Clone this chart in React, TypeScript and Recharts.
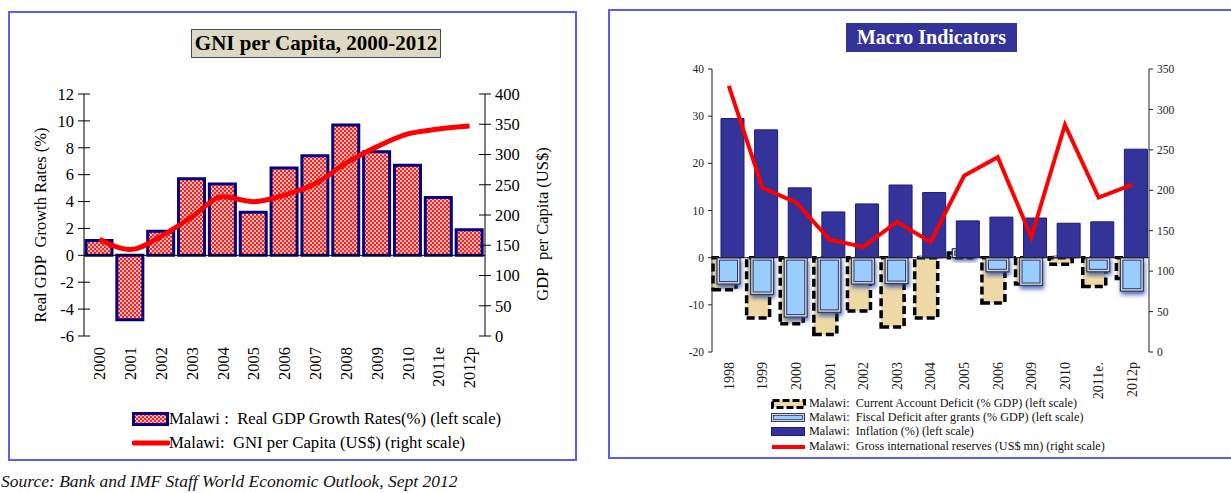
import React from 'react';
import { ComposedChart, Bar, Line, XAxis, YAxis, ReferenceLine } from 'recharts';

const SERIF = '"Liberation Serif", "Times New Roman", serif';

// ---------- Left chart data: GNI per Capita, 2000-2012 ----------
const gniYears = ['2000', '2001', '2002', '2003', '2004', '2005', '2006', '2007', '2008', '2009', '2010', '2011e', '2012p'];
const gdpGrowth = [1.1, -4.8, 1.8, 5.7, 5.3, 3.2, 6.5, 7.4, 9.7, 7.7, 6.7, 4.3, 1.9];
const gniPerCapita = [160, 143, 165, 197, 230, 222, 233, 252, 286, 313, 334, 342, 347];
const gdpTicks = [-6, -4, -2, 0, 2, 4, 6, 8, 10, 12];
const gniTicks = [0, 50, 100, 150, 200, 250, 300, 350, 400];

// ---------- Right chart data: Macro Indicators ----------
const macroYears = ['1998', '1999', '2000', '2001', '2002', '2003', '2004', '2005', '2006', '2009', '2010', '2011e.', '2012p'];
const currentAccount = [-6.8, -12.8, -14.0, -16.3, -11.3, -14.7, -12.8, 1.0, -9.6, -5.6, -1.4, -6.1, -4.4];
const fiscalDeficit = [-5.6, -7.8, -12.6, -11.6, -5.6, -5.5, 0.3, 1.9, -3.0, -5.9, 0.3, -3.0, -7.1];
const inflation = [29.5, 27.1, 14.8, 9.7, 11.4, 15.4, 13.8, 7.8, 8.6, 8.4, 7.3, 7.6, 23.0];
const reserves = [329, 203, 185, 139, 130, 161, 136, 218, 241, 142, 281, 191, 207];
const macroLeftTicks = [-20, -10, 0, 10, 20, 30, 40];
const macroRightTicks = [0, 50, 100, 150, 200, 250, 300, 350];

const gniData = gniYears.map((year, i) => ({ year, gdp: gdpGrowth[i], gni: gniPerCapita[i] }));
const macroData = macroYears.map((year, i) => ({
  year,
  ca: currentAccount[i],
  fiscal: fiscalDeficit[i],
  inflation: inflation[i],
  reserves: reserves[i],
}));

// ---------- ticks ----------
const CrossTickLeft = (props: any) => {
  const { x, y, payload } = props;
  const ax = x + 10;
  return (
    <g>
      <line x1={ax} x2={ax + 6} y1={y} y2={y} stroke="#000" strokeWidth={1} />
      <text x={x} y={y} dy="0.35em" textAnchor="end" fontFamily={SERIF} fontSize={16.5} fill="#000">
        {payload.value}
      </text>
    </g>
  );
};

const CrossTickRight = (props: any) => {
  const { x, y, payload } = props;
  const ax = x - 10;
  return (
    <g>
      <line x1={ax - 6} x2={ax} y1={y} y2={y} stroke="#000" strokeWidth={1} />
      <text x={x} y={y} dy="0.35em" textAnchor="start" fontFamily={SERIF} fontSize={16.5} fill="#000">
        {payload.value}
      </text>
    </g>
  );
};

const makeRotTick = (fontSize: number, color: string) => (props: any) => {
  const { x, y, payload } = props;
  return (
    <text
      x={x}
      y={y}
      transform={`rotate(-90 ${x} ${y})`}
      dy="0.35em"
      textAnchor="end"
      fontFamily={SERIF}
      fontSize={fontSize}
      fill={color}
    >
      {payload.value}
    </text>
  );
};
const RotTickLeft = makeRotTick(16.5, '#000');
const RotTickRight = makeRotTick(14, '#222');

const FiscalShape = (props: any) => {
  const { x, y, width, height } = props;
  if (width == null || height == null || !isFinite(height)) return null;
  const top = Math.min(y, y + height);
  const h = Math.abs(height);
  return (
    <g filter="url(#fiscalShadow)">
      <rect x={x} y={top} width={width} height={h} fill="#c9d6e6" stroke="#3a3a55" strokeWidth={1.2} />
      {h > 5 ? (
        <rect x={x + 2.5} y={top + 2.5} width={width - 5} height={h - 5} fill="#99CCFF" stroke="#3a3a55" strokeWidth={1} />
      ) : (
        <rect x={x + 1} y={top} width={width - 2} height={h} fill="#99CCFF" />
      )}
    </g>
  );
};

const latticeDefs = (id: string) => (
  <pattern id={id} width="4" height="4" patternUnits="userSpaceOnUse">
    <rect x="0" y="0" width="4" height="4" fill="#ff1f1f" />
    <circle cx="1" cy="1" r="0.95" fill="#ffffff" />
    <circle cx="3" cy="3" r="0.95" fill="#ffffff" />
  </pattern>
);

export default function App() {
  return (
    <div style={{ position: 'absolute', left: 0, top: 0, width: 1231, height: 493, overflow: 'hidden', background: '#fff', fontFamily: SERIF }}>
      {/* Left panel border */}
      <div style={{ position: 'absolute', left: 8, top: 11, width: 565, height: 446, border: '2px solid #5b5bf5' }} />
      {/* Right panel border */}
      <div style={{ position: 'absolute', left: 608, top: 9, width: 640, height: 446, border: '2px solid #5b5bf5' }} />

      {/* Left chart */}
      <div style={{ position: 'absolute', left: 0, top: 0 }}>
        <ComposedChart
          width={580}
          height={470}
          data={gniData}
          margin={{ top: 94, right: 35, bottom: 74, left: 24 }}
        >
          <defs>{latticeDefs('gdpLattice')}</defs>
          <XAxis
            dataKey="year"
            axisLine={false}
            tickLine={false}
            tickSize={6}
            tickMargin={5}
            height={60}
            interval={0}
            tick={RotTickLeft}
          />
          <YAxis
            yAxisId="left"
            domain={[-6, 12]}
            ticks={gdpTicks}
            interval={0}
            width={60}
            tickSize={6}
            tickMargin={4}
            axisLine={{ stroke: '#000', strokeWidth: 1 }}
            tickLine={{ stroke: '#000' }}
            tick={CrossTickLeft}
          />
          <YAxis
            yAxisId="right"
            orientation="right"
            domain={[0, 400]}
            ticks={gniTicks}
            interval={0}
            width={60}
            tickSize={6}
            tickMargin={4}
            axisLine={{ stroke: '#000', strokeWidth: 1 }}
            tickLine={{ stroke: '#000' }}
            tick={CrossTickRight}
          />
          <ReferenceLine yAxisId="left" y={0} stroke="#000" strokeWidth={1} />
          <Bar
            yAxisId="left"
            dataKey="gdp"
            barSize={26}
            fill="url(#gdpLattice)"
            stroke="#000080"
            strokeWidth={3}
            isAnimationActive={false}
          />
          <Line
            yAxisId="right"
            dataKey="gni"
            type="monotone"
            stroke="#ff0000"
            strokeWidth={5}
            dot={false}
            activeDot={false}
            isAnimationActive={false}
          />
        </ComposedChart>
      </div>

      {/* Left title */}
      <div
        style={{
          position: 'absolute', left: 191, top: 29, width: 248, height: 27,
          background: '#ddd9c3', border: '1px solid #3b4a7a',
          fontWeight: 'bold', fontSize: 21, lineHeight: '27px', textAlign: 'center', color: '#000', whiteSpace: 'pre',
        }}
      >
        GNI per Capita, 2000-2012
      </div>

      {/* Left axis titles */}
      <div style={{ position: 'absolute', left: 41, top: 225, transform: 'translate(-50%, -50%) rotate(-90deg)', whiteSpace: 'pre', fontSize: 16.5, color: '#000' }}>
        Real GDP  Growth Rates (%)
      </div>
      <div style={{ position: 'absolute', left: 543, top: 224, transform: 'translate(-50%, -50%) rotate(-90deg)', whiteSpace: 'pre', fontSize: 16.5, color: '#000' }}>
        GDP  per Capita (US$)
      </div>

      {/* Left legend */}
      <div style={{ position: 'absolute', left: 132, top: 412 }}>
        <svg width={38} height={14} style={{ display: 'block' }}>
          <defs>{latticeDefs('gdpLatticeLegend')}</defs>
          <rect x={1.5} y={1.5} width={34} height={11} fill="url(#gdpLatticeLegend)" stroke="#000080" strokeWidth={3} />
        </svg>
      </div>
      <div style={{ position: 'absolute', left: 169, top: 410, fontSize: 16.7, lineHeight: '18px', whiteSpace: 'pre', color: '#000' }}>
        Malawi :  Real GDP Growth Rates(%) (left scale)
      </div>
      <div style={{ position: 'absolute', left: 132, top: 440 }}>
        <svg width={38} height={6} style={{ display: 'block' }}>
          <line x1={2} x2={36} y1={3} y2={3} stroke="#ff0000" strokeWidth={5} strokeLinecap="round" />
        </svg>
      </div>
      <div style={{ position: 'absolute', left: 169, top: 434, fontSize: 16.7, lineHeight: '18px', whiteSpace: 'pre', color: '#000' }}>
        Malawi:  GNI per Capita (US$) (right scale)
      </div>

      {/* Right chart */}
      <div style={{ position: 'absolute', left: 600, top: 0 }}>
        <ComposedChart
          width={631}
          height={400}
          data={macroData}
          margin={{ top: 69, right: 42, bottom: 8, left: 72 }}
          barGap={-19}
        >
          <defs>
            <filter id="fiscalShadow" x="-30%" y="-30%" width="160%" height="180%">
              <feDropShadow dx="1" dy="3" stdDeviation="2" floodColor="#1f3fa0" floodOpacity="0.75" />
            </filter>
          </defs>
          <XAxis
            dataKey="year"
            axisLine={false}
            tickLine={false}
            tickSize={6}
            tickMargin={4}
            height={40}
            interval={0}
            tick={RotTickRight}
          />
          <YAxis
            yAxisId="left"
            domain={[-20, 40]}
            ticks={macroLeftTicks}
            interval={0}
            width={40}
            tickSize={4}
            tickMargin={4}
            axisLine={{ stroke: '#222', strokeWidth: 1 }}
            tickLine={{ stroke: '#222' }}
            tick={{ fontFamily: SERIF, fontSize: 11.5, fill: '#222' }}
          />
          <YAxis
            yAxisId="right"
            orientation="right"
            domain={[0, 350]}
            ticks={macroRightTicks}
            interval={0}
            width={40}
            tickSize={4}
            tickMargin={4}
            axisLine={{ stroke: '#222', strokeWidth: 1 }}
            tickLine={{ stroke: '#222' }}
            tick={{ fontFamily: SERIF, fontSize: 11.5, fill: '#222' }}
          />
          <ReferenceLine yAxisId="left" y={0} stroke="#222" strokeWidth={1} />
          <Bar
            yAxisId="left"
            dataKey="ca"
            barSize={23}
            fill="#eed8a6"
            stroke="#000"
            strokeWidth={3.5}
            strokeDasharray="8 4"
            isAnimationActive={false}
          />
          <Bar
            yAxisId="left"
            dataKey="fiscal"
            barSize={23}
            fill="#99CCFF"
            shape={FiscalShape}
            isAnimationActive={false}
          />
          <Bar
            yAxisId="left"
            dataKey="inflation"
            barSize={23}
            fill="#333399"
            stroke="#1a1a80"
            strokeWidth={1}
            isAnimationActive={false}
          />
          <Line
            yAxisId="right"
            dataKey="reserves"
            type="linear"
            stroke="#ff0000"
            strokeWidth={4}
            dot={false}
            activeDot={false}
            isAnimationActive={false}
          />
        </ComposedChart>
      </div>

      {/* Right title */}
      <div
        style={{
          position: 'absolute', left: 846, top: 23, width: 171, height: 29,
          background: '#333399', color: '#fff', fontWeight: 'bold', fontSize: 20,
          lineHeight: '29px', textAlign: 'center', whiteSpace: 'pre',
        }}
      >
        Macro Indicators
      </div>

      {/* Right legend */}
      <div style={{ position: 'absolute', left: 771, top: 399 }}>
        <svg width={36} height={10} style={{ display: 'block' }}>
          <rect x={1.5} y={1.5} width={32} height={7} fill="#eed8a6" stroke="#000" strokeWidth={3} strokeDasharray="7 3" />
        </svg>
      </div>
      <div style={{ position: 'absolute', left: 809, top: 397, fontSize: 12.2, lineHeight: '13px', whiteSpace: 'pre', color: '#111' }}>
        Malawi:  Current Account Deficit (% GDP) (left scale)
      </div>
      <div style={{ position: 'absolute', left: 771, top: 413 }}>
        <svg width={36} height={10} style={{ display: 'block' }}>
          <rect x={0.5} y={0.5} width={33} height={8} fill="#c9d6e6" stroke="#3a3a55" strokeWidth={1} />
          <rect x={2.5} y={2.5} width={29} height={4} fill="#99CCFF" stroke="#3a3a55" strokeWidth={0.8} />
        </svg>
      </div>
      <div style={{ position: 'absolute', left: 809, top: 411, fontSize: 12.2, lineHeight: '13px', whiteSpace: 'pre', color: '#111' }}>
        Malawi:  Fiscal Deficit after grants (% GDP) (left scale)
      </div>
      <div style={{ position: 'absolute', left: 771, top: 427 }}>
        <svg width={36} height={10} style={{ display: 'block' }}>
          <rect x={0.5} y={0.5} width={33} height={8} fill="#333399" stroke="#1a1a80" strokeWidth={1} />
        </svg>
      </div>
      <div style={{ position: 'absolute', left: 809, top: 425, fontSize: 12.2, lineHeight: '13px', whiteSpace: 'pre', color: '#111' }}>
        Malawi:  Inflation (%) (left scale)
      </div>
      <div style={{ position: 'absolute', left: 771, top: 444 }}>
        <svg width={36} height={6} style={{ display: 'block' }}>
          <line x1={1} x2={34} y1={3} y2={3} stroke="#ff0000" strokeWidth={4} />
        </svg>
      </div>
      <div style={{ position: 'absolute', left: 809, top: 440, fontSize: 12.2, lineHeight: '13px', whiteSpace: 'pre', color: '#111' }}>
        Malawi:  Gross international reserves (US$ mn) (right scale)
      </div>

      {/* Source */}
      <div style={{ position: 'absolute', left: 1, top: 472, fontSize: 17.5, lineHeight: '18px', fontStyle: 'italic', whiteSpace: 'pre', color: '#111' }}>
        Source: Bank and IMF Staff World Economic Outlook, Sept 2012
      </div>
    </div>
  );
}
